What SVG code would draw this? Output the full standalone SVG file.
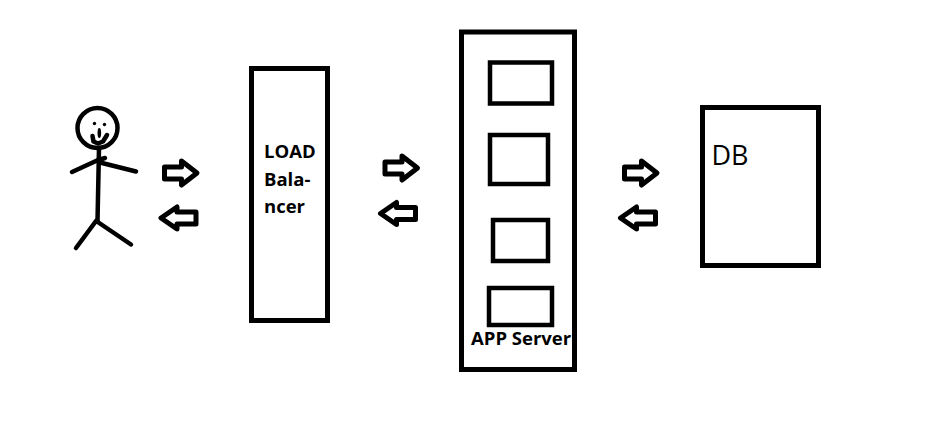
<svg xmlns="http://www.w3.org/2000/svg" width="946" height="433" viewBox="0 0 946 433">
<style>
.box{fill:#fff;stroke:#000;stroke-width:5}
.inner{fill:#fff;stroke:#000;stroke-width:4.5}
.arrow{fill:#fff;stroke:#000;stroke-width:5;stroke-linejoin:round}
.ink{fill:none;stroke:#000;stroke-width:4.5;stroke-linecap:round;stroke-linejoin:round}
.label{font-family:"Open Sans","Noto Sans",sans-serif;fill:#000}
.bold{font-size:18.5px;font-weight:700}
</style>
<defs>
<path id="ra" d="M0,-6 H17 V-12 L32.5,0 L17,12 V6 H0 Z"/>
<path id="la" d="M0,0 L16,-11 V-6 H35 V6 H16 V11 Z"/>
</defs>
<rect width="946" height="433" fill="#fff"/>
<g id="user">
<circle class="ink" cx="97.5" cy="128" r="20"/>
<circle cx="94.5" cy="123.5" r="1.7"/>
<circle cx="104.5" cy="124.5" r="1.7"/>
<ellipse cx="99.3" cy="133" rx="1.8" ry="5"/>
<path class="ink" d="M92.5,136 L93.5,141.5 L98,143.5 L103,141.5 L107,135"/>
<path class="ink" d="M99,148 L97.5,221"/>
<path class="ink" d="M72,172 L97,160.5 L105,158 M100,162.5 L136,171.5"/>
<path class="ink" d="M96,221 L76,248 M97,221.5 L131,244.5"/>
</g>
<g id="connectors">
<use href="#ra" class="arrow" x="164.5" y="173"/>
<use href="#la" class="arrow" x="161" y="218"/>
<use href="#ra" class="arrow" x="385" y="168"/>
<use href="#la" class="arrow" x="380.5" y="213.5"/>
<use href="#ra" class="arrow" x="624.5" y="173"/>
<use href="#la" class="arrow" x="620.5" y="218"/>
</g>
<g id="load-balancer">
<rect class="box" x="251.5" y="68.5" width="76" height="252"/>
<text class="label bold" x="264" y="158">LOAD</text>
<text class="label bold" x="264" y="186">Bala-</text>
<text class="label bold" x="264" y="213">ncer</text>
</g>
<g id="app-server">
<rect class="box" x="461.5" y="32" width="113" height="337.5"/>
<rect class="inner" x="490" y="62.5" width="62" height="41"/>
<rect class="inner" x="490" y="135" width="58" height="49"/>
<rect class="inner" x="493" y="220" width="55" height="41"/>
<rect class="inner" x="489" y="288" width="63" height="37"/>
<text class="label bold" x="471" y="345">APP Server</text>
</g>
<g id="db">
<rect class="box" x="702.5" y="107.5" width="116" height="158"/>
<text class="label" x="711.5" y="165" font-size="27">DB</text>
</g>
</svg>
